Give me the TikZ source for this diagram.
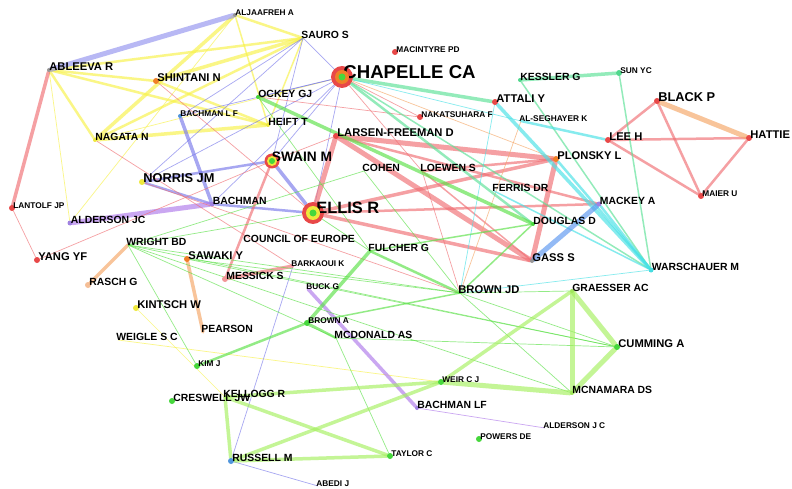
\documentclass[tikz,border=0pt]{standalone}
\usepackage{fontspec}
\setmainfont{Liberation Sans}
\usetikzlibrary{backgrounds}

% node colours
\definecolor{nR}{RGB}{232,72,72}
\definecolor{nO}{RGB}{240,128,40}
\definecolor{nY}{RGB}{238,232,60}
\definecolor{nG}{RGB}{70,215,60}
\definecolor{nT}{RGB}{80,215,140}
\definecolor{nC}{RGB}{70,220,225}
\definecolor{nB}{RGB}{80,150,220}
\definecolor{nP}{RGB}{160,130,225}
\definecolor{nL}{RGB}{160,230,90}
\definecolor{nGr}{RGB}{150,150,150}
\definecolor{nPk}{RGB}{242,150,150}
\definecolor{nLO}{RGB}{245,190,150}
% link colours
\definecolor{eY}{RGB}{248,242,70}
\definecolor{eB}{RGB}{120,120,235}
\definecolor{eV}{RGB}{175,120,235}
\definecolor{eR}{RGB}{240,110,115}
\definecolor{eO}{RGB}{245,165,100}
\definecolor{eT}{RGB}{90,225,150}
\definecolor{eC}{RGB}{70,225,230}
\definecolor{eG}{RGB}{90,225,70}
\definecolor{eL}{RGB}{165,240,95}
\definecolor{eS}{RGB}{90,150,240}

\tikzset{
  dot/.style={circle, inner sep=0pt, minimum size=6pt, draw=none},
  hid/.style={circle, inner sep=0pt, minimum size=0pt},
  lbl/.style={font=\bfseries\fontsize{10.4}{11}\selectfont, inner sep=0pt, yshift=3pt},
  tag/.style={label={[lbl]0:#1}},
  stag/.style={label={[lbl, font=\bfseries\fontsize{8.3}{9}\selectfont, yshift=-0.5pt]0:#1}},
  btag/.style={label={[lbl, font=\bfseries\fontsize{11.2}{12}\selectfont]0:#1}},
  mtag/.style={label={[lbl, font=\bfseries\fontsize{12.8}{13}\selectfont, yshift=0.5pt]0:#1}},
  link/.style={line cap=round, opacity=0.65},
  t0/.style={line width=0.7pt}, t1/.style={line width=1.5pt},
  t2/.style={line width=2.5pt}, t3/.style={line width=3.5pt},
  t4/.style={line width=5pt},
  every node/.append style={label distance=-2pt},
}

\begin{document}
\begin{tikzpicture}[x=1pt, y=-1pt]
	\useasboundingbox (0,0) rectangle (792,489);
	% upper left
	\node[dot, fill=nGr, minimum size=4pt, stag={ALJAAFREH A}] (aljaafreh) at (235,15) {};
	\node[hid, tag={SAURO S}] (sauro) at (303,38) {};
	\node[dot, fill=nGr, minimum size=4pt, btag={ABLEEVA R}] (ableeva) at (49,70) {};
	\node[dot, fill=nO, btag={SHINTANI N}] (shintani) at (156,81) {};
	\node[dot, fill=nY, minimum size=4pt, tag={NAGATA N}] (nagata) at (95,140) {};
	\node[dot, fill=nY, minimum size=4pt, tag={HEIFT T}] (heift) at (268,125) {};
	\node[dot, fill=nB, minimum size=4pt, stag={BACHMAN L F}] (bachmanlf) at (180,116) {};
	\node[dot, fill=nY, mtag={NORRIS JM}] (norris) at (142,182) {};
	\node[dot, fill=nP, minimum size=5pt, tag={BACHMAN}] (bachman) at (212,204) {};
	\node[dot, fill=nP, minimum size=5pt, tag={ALDERSON JC}] (alderson) at (70,223) {};
	\node[dot, fill=nR, stag={LANTOLF JP}] (lantolf) at (12,208) {};
	\node[dot, fill=nR, btag={YANG YF}] (yang) at (37,260) {};
	% upper middle
	\node[dot, fill=nR, minimum size=22pt, label={[lbl, font=\bfseries\fontsize{18.6}{19}\selectfont, xshift=-8pt, yshift=1.5pt]0:CHAPELLE CA}] (chapelle) at (342,77) {};
	\fill[nO] (chapelle) circle (7pt);
	\fill[nG] (chapelle) circle (3.5pt);
	\node[dot, fill=nR, stag={MACINTYRE PD}] (macintyre) at (395,52) {};
	\node[dot, fill=nG, minimum size=4pt, tag={OCKEY GJ}] (ockey) at (258,97) {};
	\node[dot, fill=nR, stag={NAKATSUHARA F}] (nakatsuhara) at (420,117) {};
	\node[dot, fill=nR, btag={LARSEN-FREEMAN D}] (larsen) at (336,136) {};
	\node[dot, fill=nR, minimum size=15pt, label={[lbl, font=\bfseries\fontsize{13.7}{14}\selectfont, xshift=-6pt, yshift=1pt]0:SWAIN M}] (swain) at (272,161) {};
	\fill[nY] (swain) circle (5pt);
	\fill[nG] (swain) circle (3pt);
	\node[hid, tag={COHEN}] (cohen) at (364,171) {};
	\node[hid, tag={LOEWEN S}] (loewen) at (422,171) {};
	\node[dot, fill=nR, minimum size=22pt, label={[lbl, font=\bfseries\fontsize{16.4}{17}\selectfont, xshift=-6pt, yshift=2pt]0:ELLIS R}] (ellis) at (313,213) {};
	\fill[nY] (ellis) circle (7pt);
	\fill[nG] (ellis) circle (3.5pt);
	% upper right
	\node[dot, fill=nT, minimum size=4pt, tag={KESSLER G}] (kessler) at (520,80) {};
	\node[dot, fill=nT, stag={SUN YC}] (sun) at (619,73) {};
	\node[dot, fill=nR, btag={ATTALI Y}] (attali) at (495,102) {};
	\node[dot, fill=nR, mtag={BLACK P}] (black) at (657,101) {};
	\node[hid, stag={AL-SEGHAYER K}] (alseghayer) at (521,121) {};
	\node[dot, fill=nR, btag={LEE H}] (lee) at (608,140) {};
	\node[dot, fill=nR, btag={HATTIE}] (hattie) at (749,138) {};
	\node[dot, fill=nO, btag={PLONSKY L}] (plonsky) at (556,159) {};
	\node[hid, tag={FERRIS DR}] (ferris) at (494,191) {};
	\node[dot, fill=nP, minimum size=5pt, tag={MACKEY A}] (mackey) at (599,204) {};
	\node[dot, fill=nR, stag={MAIER U}] (maier) at (701,196) {};
	\node[dot, fill=nG, minimum size=4pt, tag={DOUGLAS D}] (douglas) at (533,224) {};
	\node[dot, fill=nGr, minimum size=4pt, btag={GASS S}] (gass) at (532,261) {};
	\node[dot, fill=nC, minimum size=5pt, tag={WARSCHAUER M}] (warschauer) at (651,270) {};
	% middle
	\node[hid, tag={WRIGHT BD}] (wright) at (128,245) {};
	\node[hid, tag={COUNCIL OF EUROPE}] (council) at (245,242) {};
	\node[hid, tag={FULCHER G}] (fulcher) at (370,251) {};
	\node[dot, fill=nO, btag={SAWAKI Y}] (sawaki) at (187,259) {};
	\node[hid, stag={BARKAOUI K}] (barkaoui) at (293,266) {};
	\node[dot, fill=nPk, tag={MESSICK S}] (messick) at (225,279) {};
	\node[dot, fill=nLO, tag={RASCH G}] (rasch) at (88,285) {};
	\node[hid, btag={BROWN JD}] (brownjd) at (460,293) {};
	\node[dot, fill=nL, minimum size=4pt, tag={GRAESSER AC}] (graesser) at (572,291) {};
	\node[hid, stag={BUCK G}] (buck) at (308,289) {};
	\node[dot, fill=nY, btag={KINTSCH W}] (kintsch) at (136,308) {};
	\node[dot, fill=nG, stag={BROWN A}] (browna) at (307,323) {};
	\node[hid, tag={PEARSON}] (pearson) at (203,332) {};
	\node[hid, tag={MCDONALD AS}] (mcdonald) at (336,338) {};
	\node[hid, tag={WEIGLE S C}] (weigle) at (118,340) {};
	% lower part
	\node[dot, fill=nG, btag={CUMMING A}] (cumming) at (617,347) {};
	\node[dot, fill=nG, stag={KIM J}] (kim) at (197,366) {};
	\node[dot, fill=nG, stag={WEIR C J}] (weir) at (441,382) {};
	\node[dot, fill=nL, minimum size=4pt, tag={MCNAMARA DS}] (mcnamara) at (572,393) {};
	\node[hid, tag={KELLOGG R}] (kellogg) at (225,397) {};
	\node[dot, fill=nG, tag={CRESWELL JW}] (creswell) at (172,401) {};
	\node[dot, fill=nP, minimum size=4pt, tag={BACHMAN LF}] (bachmanlf2) at (417,408) {};
	\node[hid, stag={ALDERSON J C}] (aldersonjc2) at (545,428) {};
	\node[dot, fill=nG, stag={POWERS DE}] (powers) at (479,439) {};
	\node[dot, fill=nB, tag={RUSSELL M}] (russell) at (231,461) {};
	\node[dot, fill=nG, stag={TAYLOR C}] (taylor) at (390,456) {};
	\node[hid, stag={ABEDI J}] (abedi) at (318,486) {};

	\begin{scope}[on background layer]
	\fill[white] (0,0) rectangle (792,489);
	% yellow links
	\draw[link, eY, t2] (ableeva) -- (sauro);
	\draw[link, eY, t2] (ableeva) -- (shintani);
	\draw[link, eY, t2] (ableeva) -- (heift);
	\draw[link, eY, t2] (ableeva) -- (nagata);
	\draw[link, eY, t0] (ableeva) -- (alderson);
	\draw[link, eY, t3] (aljaafreh) -- (nagata);
	\draw[link, eY, t2] (aljaafreh) -- (sauro);
	\draw[link, eY, t1] (aljaafreh) -- (heift);
	\draw[link, eY, t0] (aljaafreh) -- (alderson);
	\draw[link, eY, t3] (shintani) -- (sauro);
	\draw[link, eY, t2] (nagata) -- (sauro);
	\draw[link, eY, t3] (nagata) -- (heift);
	\draw[link, eY, t2] (shintani) -- (heift);
	\draw[link, eY, t1] (sauro) -- (heift);
	\draw[link, eY, t0] (nagata) -- (chapelle);
	\draw[link, eY, t0] (kintsch) -- (kellogg);
	\draw[link, eY, t0] (weigle) -- (weir);
	% blue and violet links
	\draw[link, eB!80, t4] (ableeva) -- (aljaafreh);
	\draw[link, eB, t3] (bachmanlf) -- (bachman);
	\draw[link, eB, t2] (norris) -- (bachman);
	\draw[link, eB, t2] (norris) -- (swain);
	\draw[link, eB, t3] (swain) -- (ellis);
	\draw[link, eB, t2] (bachman) -- (ellis);
	\draw[link, eB, t0] (sauro) -- (chapelle);
	\draw[link, eB, t0] (sauro) -- (bachmanlf);
	\draw[link, eB, t0] (sauro) -- (swain);
	\draw[link, eB, t0] (sauro) -- (norris);
	\draw[link, eB, t0] (chapelle) -- (ockey);
	\draw[link, eB, t0] (chapelle) -- (bachmanlf);
	\draw[link, eB, t0] (chapelle) -- (norris);
	\draw[link, eB, t0] (chapelle) -- (swain);
	\draw[link, eB, t0] (chapelle) -- (ellis);
	\draw[link, eB, t0] (chapelle) -- (bachman);
	\draw[link, eB, t0] (russell) -- (abedi);
	\draw[link, eB, t0] (russell) -- (barkaoui);
	\draw[link, eV, t4] (alderson) -- (bachman);
	\draw[link, eV, t3] (buck) -- (bachmanlf2);
	\draw[link, eV, t0] (bachmanlf2) -- (aldersonjc2);
	% red and orange links
	\draw[link, eR, t3] (ableeva) -- (lantolf);
	\draw[link, eR, t0] (lantolf) -- (yang);
	\draw[link, eR, t0] (yang) -- (swain);
	\draw[link, eR, t4] (ellis) -- (larsen);
	\draw[link, eR, t4] (larsen) -- (plonsky);
	\draw[link, eR, t4] (larsen) -- (gass);
	\draw[link, eR, t2] (larsen) -- (mackey);
	\draw[link, eR, t3] (ellis) -- (plonsky);
	\draw[link, eR, t3] (ellis) -- (gass);
	\draw[link, eR, t2] (ellis) -- (mackey);
	\draw[link, eR, t2] (loewen) -- (plonsky);
	\draw[link, eR, t1] (loewen) -- (gass);
	\draw[link, eR, t4] (plonsky) -- (gass);
	\draw[link, eR, t3] (messick) -- (barkaoui);
	\draw[link, eR, t2] (messick) -- (swain);
	\draw[link, eR, t0] (nagata) -- (barkaoui);
	\draw[link, eR, t0] (shintani) -- (ellis);
	\draw[link, eR, t0] (chapelle) -- (loewen);
	\draw[link, eR, t0] (chapelle) -- (nakatsuhara);
	\draw[link, eR, t0] (ockey) -- (nakatsuhara);
	\draw[link, eR, t0] (swain) -- (larsen);
	\draw[link, eR, t0] (loewen) -- (brownjd);
	\draw[link, eR, t0] (norris) -- (brownjd);
	\draw[link, eR, t2] (black) -- (lee);
	\draw[link, eR, t2] (lee) -- (hattie);
	\draw[link, eR, t2] (black) -- (maier);
	\draw[link, eR, t2] (lee) -- (maier);
	\draw[link, eR, t2] (hattie) -- (maier);
	\draw[link, eO, t4] (black) -- (hattie);
	\draw[link, eO, t3] (wright) -- (rasch);
	\draw[link, eO, t3] (sawaki) -- (pearson);
	\draw[link, eO, t0] (chapelle) -- (plonsky);
	\draw[link, eO, t0] (alseghayer) -- (brownjd);
	% teal and cyan links
	\draw[link, eT, t3] (chapelle) -- (attali);
	\draw[link, eT, t2] (chapelle) -- (douglas);
	\draw[link, eT, t1] (chapelle) -- (warschauer);
	\draw[link, eT, t3] (kessler) -- (sun);
	\draw[link, eT, t1] (sun) -- (warschauer);
	\draw[link, eT, t1] (kessler) -- (warschauer);
	\draw[link, eC, t3] (attali) -- (warschauer);
	\draw[link, eC, t2] (alseghayer) -- (lee);
	\draw[link, eC, t0] (chapelle) -- (alseghayer);
	\draw[link, eC, t2] (mackey) -- (warschauer);
	\draw[link, eC, t2] (plonsky) -- (warschauer);
	\draw[link, eC, t1] (ferris) -- (warschauer);
	\draw[link, eC, t0] (brownjd) -- (warschauer);
	\draw[link, eC, t0] (attali) -- (brownjd);
	\draw[link, eS, t4] (mackey) -- (gass);
	% green links
	\draw[link, eG, t3] (ockey) -- (douglas);
	\draw[link, eG, t2] (fulcher) -- (brownjd);
	\draw[link, eG, t3] (fulcher) -- (browna);
	\draw[link, eG, t2] (browna) -- (kim);
	\draw[link, eG, t2] (browna) -- (mcdonald);
	\draw[link, eG, t1] (browna) -- (brownjd);
	\draw[link, eG, t1] (brownjd) -- (douglas);
	\draw[link, eG, t1] (fulcher) -- (douglas);
	\draw[link, eG, t0] (ockey) -- (fulcher);
	\draw[link, eG, t0] (cohen) -- (brownjd);
	\draw[link, eG, t0] (ellis) -- (fulcher);
	\draw[link, eG, t0] (wright) -- (cohen);
	\draw[link, eG, t0] (wright) -- (ellis);
	\draw[link, eG, t0] (wright) -- (brownjd);
	\draw[link, eG, t0] (wright) -- (mcnamara);
	\draw[link, eG, t0] (wright) -- (kim);
	\draw[link, eG, t0] (wright) -- (cumming);
	\draw[link, eG, t0] (wright) -- (mcdonald);
	\draw[link, eG, t0] (sawaki) -- (brownjd);
	\draw[link, eG, t0] (sawaki) -- (cumming);
	\draw[link, eG, t0] (brownjd) -- (cumming);
	\draw[link, eG, t0] (brownjd) -- (mcnamara);
	\draw[link, eG, t0] (brownjd) -- (graesser);
	\draw[link, eG, t0] (mcdonald) -- (taylor);
	\draw[link, eG, t0] (mcdonald) -- (cumming);
	% light green links
	\draw[link, eL, t4] (graesser) -- (cumming);
	\draw[link, eL, t4] (graesser) -- (mcnamara);
	\draw[link, eL, t4] (cumming) -- (mcnamara);
	\draw[link, eL, t4] (weir) -- (mcnamara);
	\draw[link, eL, t3] (weir) -- (graesser);
	\draw[link, eL, t3] (kellogg) -- (weir);
	\draw[link, eL, t3] (kellogg) -- (russell);
	\draw[link, eL, t3] (kellogg) -- (taylor);
	\draw[link, eL, t3] (russell) -- (taylor);
	\draw[link, eL, t3] (russell) -- (weir);
	\end{scope}
\end{tikzpicture}
\end{document}
